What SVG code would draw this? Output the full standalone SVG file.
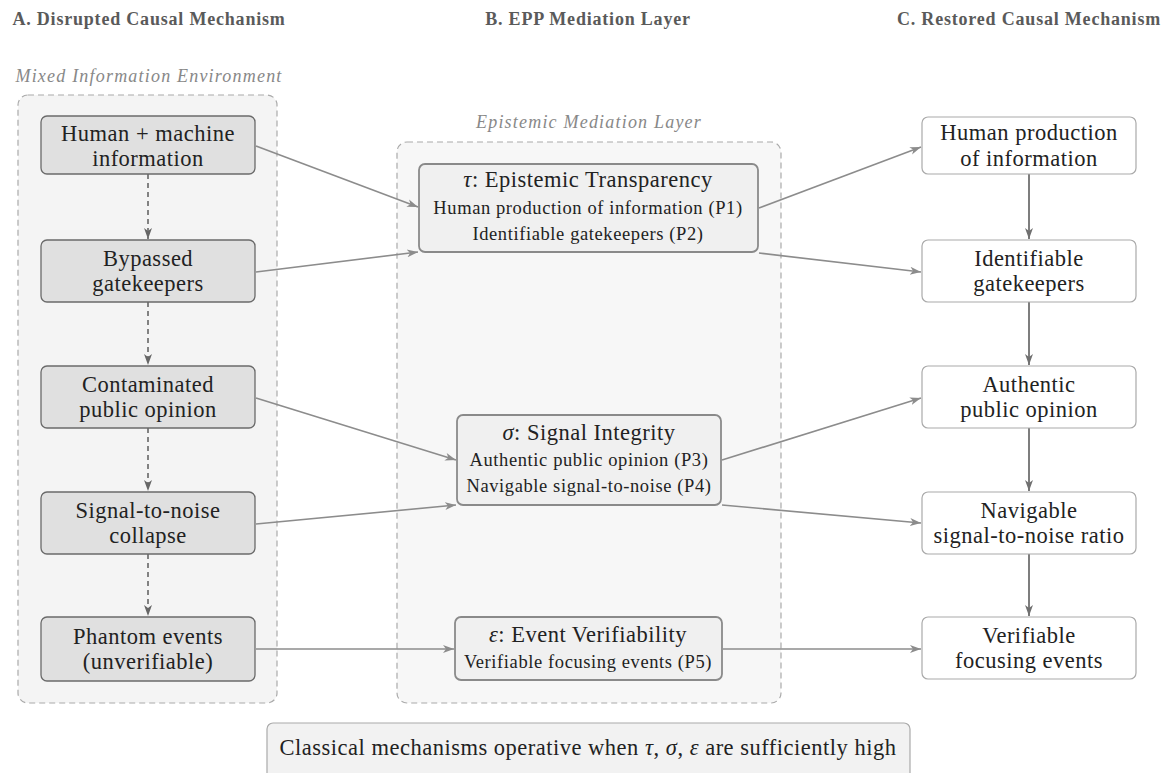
<svg xmlns="http://www.w3.org/2000/svg" width="1174" height="773" viewBox="0 0 1174 773">
<defs>
<marker id="ah" markerUnits="userSpaceOnUse" markerWidth="12" markerHeight="10" viewBox="0 0 12 10" refX="11" refY="5" orient="auto">
<path d="M0,1 L11,5 L0,9 L3,5 z" fill="#8c8c8c"/>
</marker>
<marker id="ahd" markerUnits="userSpaceOnUse" markerWidth="12" markerHeight="10" viewBox="0 0 12 10" refX="11" refY="5" orient="auto">
<path d="M0,1 L11,5 L0,9 L3,5 z" fill="#666"/>
</marker>
<marker id="ahv" markerUnits="userSpaceOnUse" markerWidth="12" markerHeight="10" viewBox="0 0 12 10" refX="11" refY="5" orient="auto">
<path d="M0,1 L11,5 L0,9 L3,5 z" fill="#707070"/>
</marker>
</defs>
<style>
text{font-family:"Liberation Serif","Times New Roman",serif;fill:#222;text-anchor:middle}
.hdr{font-weight:bold;font-size:18px;fill:#5a5a5a;letter-spacing:0.8px}
.lbl{font-style:italic;font-size:18px;fill:#888;letter-spacing:1.2px}
.t{font-size:22.5px;letter-spacing:0.5px}
.s{font-size:18.5px;letter-spacing:0.6px}
.g{font-style:italic}
.cont{stroke:#aaa;stroke-width:1.2;stroke-dasharray:6,4}
.ln{fill:#e0e0e0;stroke:#6a6a6a;stroke-width:1.3}
.mn{fill:#f0f0f0;stroke:#8a8a8a;stroke-width:1.8}
.rn{fill:#fff;stroke:#aaa;stroke-width:1.2}
.c{fill:none;stroke:#8c8c8c;stroke-width:1.6;marker-end:url(#ah)}
.cd{fill:none;stroke:#666;stroke-width:1.6;stroke-dasharray:5,4;marker-end:url(#ahd)}
.cv{fill:none;stroke:#707070;stroke-width:1.8;marker-end:url(#ahv)}
</style>

<g id="headers">
<text class="hdr" x="149" y="25">A. Disrupted Causal Mechanism</text>
<text class="hdr" x="588" y="25">B. EPP Mediation Layer</text>
<text class="hdr" x="1029" y="25">C. Restored Causal Mechanism</text>
</g>

<g id="container-left">
<rect class="cont" x="18" y="95" width="259" height="608" rx="10" fill="#f4f4f4"/>
<text class="lbl" x="149" y="82">Mixed Information Environment</text>
</g>
<g id="container-mid">
<rect class="cont" x="397" y="142" width="384" height="561" rx="10" fill="#f7f7f7"/>
<text class="lbl" x="589" y="128">Epistemic Mediation Layer</text>
</g>

<g id="connectors">
<line class="cd" x1="148" y1="174" x2="148" y2="239"/>
<line class="cd" x1="148" y1="302" x2="148" y2="365"/>
<line class="cd" x1="148" y1="428" x2="148" y2="491"/>
<line class="cd" x1="148" y1="554" x2="148" y2="616"/>
<line class="c" x1="256" y1="146" x2="418" y2="207"/>
<line class="c" x1="256" y1="272" x2="418" y2="252"/>
<line class="c" x1="256" y1="398" x2="456" y2="460"/>
<line class="c" x1="256" y1="524" x2="456" y2="505"/>
<line class="c" x1="256" y1="649" x2="454" y2="649"/>
<line class="c" x1="759" y1="208" x2="921" y2="147"/>
<line class="c" x1="759" y1="253" x2="921" y2="272"/>
<line class="c" x1="722" y1="460" x2="921" y2="398"/>
<line class="c" x1="722" y1="505" x2="921" y2="523"/>
<line class="c" x1="723" y1="649" x2="921" y2="649"/>
<line class="cv" x1="1029" y1="174" x2="1029" y2="239"/>
<line class="cv" x1="1029" y1="302" x2="1029" y2="365"/>
<line class="cv" x1="1029" y1="428" x2="1029" y2="491"/>
<line class="cv" x1="1029" y1="554" x2="1029" y2="616"/>
</g>

<g id="a1"><rect class="ln" x="41" y="116" width="214" height="58" rx="6"/>
<text class="t" x="148" y="141">Human + machine</text><text class="t" x="148" y="166">information</text></g>
<g id="a2"><rect class="ln" x="41" y="240" width="214" height="62" rx="6"/>
<text class="t" x="148" y="266">Bypassed</text><text class="t" x="148" y="291">gatekeepers</text></g>
<g id="a3"><rect class="ln" x="41" y="366" width="214" height="62" rx="6"/>
<text class="t" x="148" y="392">Contaminated</text><text class="t" x="148" y="417">public opinion</text></g>
<g id="a4"><rect class="ln" x="41" y="492" width="214" height="62" rx="6"/>
<text class="t" x="148" y="518">Signal-to-noise</text><text class="t" x="148" y="543">collapse</text></g>
<g id="a5"><rect class="ln" x="41" y="617" width="214" height="64" rx="6"/>
<text class="t" x="148" y="644">Phantom events</text><text class="t" x="148" y="669">(unverifiable)</text></g>

<g id="tau"><rect class="mn" x="419" y="164" width="339" height="88" rx="6"/>
<text class="t" x="588" y="187"><tspan class="g">τ</tspan>: Epistemic Transparency</text>
<text class="s" x="588" y="214">Human production of information (P1)</text>
<text class="s" x="588" y="240">Identifiable gatekeepers (P2)</text></g>
<g id="sigma"><rect class="mn" x="457" y="415" width="264" height="90" rx="6"/>
<text class="t" x="589" y="440"><tspan class="g">σ</tspan>: Signal Integrity</text>
<text class="s" x="589" y="466">Authentic public opinion (P3)</text>
<text class="s" x="589" y="492">Navigable signal-to-noise (P4)</text></g>
<g id="epsilon"><rect class="mn" x="455" y="617" width="267" height="63" rx="6"/>
<text class="t" x="588" y="642"><tspan class="g">ε</tspan>: Event Verifiability</text>
<text class="s" x="588" y="668">Verifiable focusing events (P5)</text></g>

<g id="c1"><rect class="rn" x="922" y="117" width="214" height="57" rx="6"/>
<text class="t" x="1029" y="140">Human production</text><text class="t" x="1029" y="166">of information</text></g>
<g id="c2"><rect class="rn" x="922" y="240" width="214" height="62" rx="6"/>
<text class="t" x="1029" y="266">Identifiable</text><text class="t" x="1029" y="291">gatekeepers</text></g>
<g id="c3"><rect class="rn" x="922" y="366" width="214" height="62" rx="6"/>
<text class="t" x="1029" y="392">Authentic</text><text class="t" x="1029" y="417">public opinion</text></g>
<g id="c4"><rect class="rn" x="922" y="492" width="214" height="62" rx="6"/>
<text class="t" x="1029" y="518">Navigable</text><text class="t" x="1029" y="543">signal-to-noise ratio</text></g>
<g id="c5"><rect class="rn" x="922" y="617" width="214" height="62" rx="6"/>
<text class="t" x="1029" y="643">Verifiable</text><text class="t" x="1029" y="668">focusing events</text></g>

<g id="note"><rect x="267" y="723" width="643" height="60" rx="6" fill="#f2f2f2" stroke="#aaa" stroke-width="1.2"/>
<text class="t" x="588" y="755">Classical mechanisms operative when <tspan class="g">τ</tspan>, <tspan class="g">σ</tspan>, <tspan class="g">ε</tspan> are sufficiently high</text></g>
</svg>
